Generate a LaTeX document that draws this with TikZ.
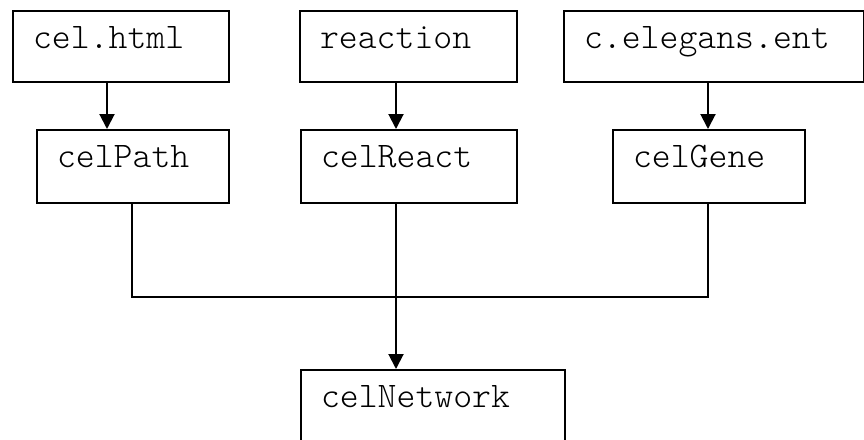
\documentclass[tikz,border=0pt]{standalone}
\usetikzlibrary{arrows.meta}

\tikzset{
  filebox/.style={draw, line width=2pt, anchor=north west, inner xsep=20pt,
    inner ysep=0pt, text height=37pt, align=left,
    font=\ttfamily\fontseries{l}\fontsize{36}{40}\selectfont},
  link/.style={line width=2pt},
  flow/.style={line width=2pt, -{Triangle[length=15pt,width=15pt]}}
}

\begin{document}
\begin{tikzpicture}[x=1pt, y=-1pt]
  \useasboundingbox (0,0) rectangle (864,439);

  % source files
  \node[filebox, text width=176pt, text depth=34pt] (html) at (12,10) {cel.html};
  \node[filebox, text width=177pt, text depth=34pt] (reaction) at (299,10) {reaction};
  \node[filebox, text width=260pt, text depth=34pt] (ent) at (563,10) {c.elegans.ent};

  % parsed tables
  \node[filebox, text width=152pt, text depth=36pt] (path) at (36,129) {celPath};
  \node[filebox, text width=176pt, text depth=36pt] (react) at (300,129) {celReact};
  \node[filebox, text width=152pt, text depth=36pt] (gene) at (612,129) {celGene};

  % merged network
  \node[filebox, text width=224pt, text depth=39pt] (net) at (300,369) {celNetwork};

  % connector columns and the joining bus
  \coordinate (c1) at (107,0);
  \coordinate (c2) at (396,0);
  \coordinate (c3) at (708,0);
  \coordinate (d1) at (132,0);
  \coordinate (bus) at (0,297);

  \draw[flow] (c1 |- html.south) -- (c1 |- path.north);
  \draw[flow] (c2 |- reaction.south) -- (c2 |- react.north);
  \draw[flow] (c3 |- ent.south) -- (c3 |- gene.north);

  \draw[link] (d1 |- path.south) -- (d1 |- bus) -- (c3 |- bus) -- (c3 |- gene.south);
  \draw[flow] (c2 |- react.south) -- (c2 |- net.north);
\end{tikzpicture}
\end{document}
